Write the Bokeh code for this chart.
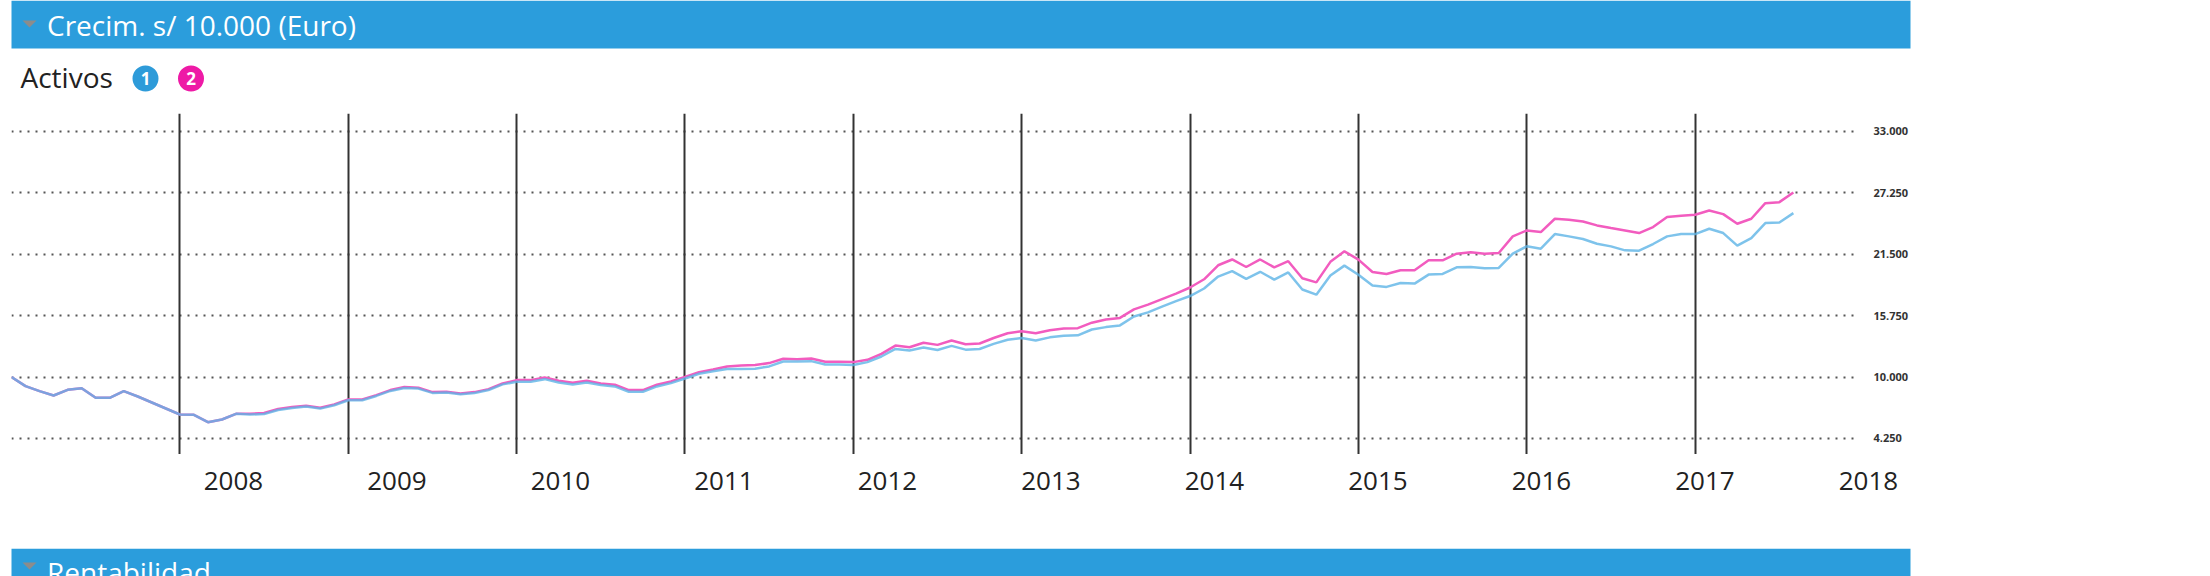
from bokeh.plotting import figure
from bokeh.models import Range1d, FixedTicker, ColumnDataSource, Grid
from bokeh.core.properties import value
from bokeh.embed import file_html
from bokeh.resources import INLINE

# ---------------- data ----------------
months = list(range(128))  # monthly observations, index 0 = first month

serie_1 = [10000, 9143, 8675, 8270, 8800, 8956, 8052, 8052, 8675, 8177,
           7616, 7055, 6494, 6463, 5777, 6026, 6556, 6485, 6547, 6921,
           7108, 7233, 7046, 7358, 7826, 7826, 8230, 8698, 8978, 8916,
           8511, 8542, 8386, 8508, 8786, 9312, 9552, 9552, 9799, 9490,
           9304, 9490, 9243, 9119, 8624, 8624, 9119, 9428, 9861, 10300,
           10540, 10743, 10743, 10774, 10990, 11454, 11454, 11484, 11175, 11175,
           11114, 11392, 11917, 12628, 12474, 12760, 12525, 12908, 12557, 12621,
           13100, 13483, 13643, 13419, 13707, 13867, 13898, 14441, 14665, 14825,
           15655, 16038, 16581, 17092, 17571, 18274, 19392, 19903, 19168, 19839,
           19105, 19775, 18178, 17699, 19488, 20413, 19560, 18548, 18423, 18796,
           18734, 19573, 19635, 20257, 20288, 20164, 20195, 21531, 22215, 21998,
           23365, 23147, 22899, 22464, 22215, 21842, 21811, 22433, 23147, 23365,
           23365, 23862, 23458, 22277, 22992, 24391, 24453, 25323]

serie_2 = [10000, 9143, 8675, 8270, 8800, 8956, 8052, 8052, 8675, 8177,
           7616, 7055, 6494, 6463, 5777, 6026, 6556, 6565, 6627, 7001,
           7188, 7313, 7126, 7438, 7906, 7906, 8310, 8778, 9058, 8996,
           8591, 8622, 8466, 8588, 8866, 9392, 9708, 9708, 9955, 9646,
           9460, 9646, 9399, 9275, 8780, 8780, 9275, 9584, 10017, 10450,
           10700, 10990, 11083, 11114, 11299, 11701, 11670, 11732, 11423, 11423,
           11392, 11608, 12164, 12937, 12783, 13200, 13004, 13419, 13068, 13132,
           13643, 14090, 14282, 14090, 14377, 14537, 14569, 15080, 15368, 15527,
           16326, 16773, 17284, 17795, 18370, 19136, 20446, 20989, 20286, 20989,
           20254, 20829, 19232, 18849, 20765, 21750, 20980, 19822, 19635, 19977,
           19977, 20910, 20910, 21531, 21656, 21531, 21593, 23147, 23707, 23551,
           24795, 24701, 24546, 24173, 23924, 23707, 23458, 24018, 24950, 25074,
           25168, 25572, 25230, 24328, 24795, 26255, 26349, 27250]

year_lines = [12, 24, 36, 48, 60, 72, 84, 96, 108, 120]   # month index of each year separator
year_labels = [2008, 2009, 2010, 2011, 2012, 2013, 2014, 2015, 2016, 2017, 2018]
y_ticks = [4250, 10000, 15750, 21500, 27250, 33000]
y_tick_labels = ["4.250", "10.000", "15.750", "21.500", "27.250", "33.000"]

title_text = "Crecim. s/ 10.000 (Euro)"
legend_title = "Activos"
legend_items = ["1", "2"]
legend_colors = ["#2e9bd9", "#ee1aa6"]
next_section = "Rentabilidad"

W = 2210
BLUE_BAR = "#2b9ddc"
FONT = "Open Sans"


def blank(h, xr, yr):
    f = figure(width=W, height=h, x_range=xr, y_range=yr, title=None,
               x_axis_location=None, y_axis_location=None,
               toolbar_location=None, output_backend="svg",
               min_border_left=0, min_border_right=0,
               min_border_top=0, min_border_bottom=0)
    f.outline_line_color = None
    f.grid.visible = False
    f.background_fill_color = "white"
    f.border_fill_color = "white"
    return f


# ---------------- header (section title + legend) ----------------
head = blank(113, Range1d(0, W), Range1d(113, 0))
head.quad(left=11, right=1910, top=0, bottom=48, fill_color=BLUE_BAR, line_color=None)
head.patch([22, 36, 29], [20, 20, 27], fill_color="#8c8c8c", line_color=None)
head.text(x=[46.5], y=[24.5], text=[title_text], text_color="white",
          text_font=value(FONT), text_font_size=value("28px"), text_baseline="middle")
head.text(x=[20], y=[76], text=[legend_title], text_color="#222222",
          text_font=value(FONT), text_font_size=value("28px"), text_baseline="middle")
head.scatter(x=[145, 190.5], y=[78, 78], size=26, marker="circle",
             fill_color=legend_colors, line_color=None)
head.text(x=[145, 190.5], y=[77.5, 77.5], text=legend_items, text_color="white",
          text_font=value(FONT), text_font_size=value("17px"), text_font_style="bold",
          text_align="center", text_baseline="middle")

# ---------------- main chart ----------------
p = figure(width=W, height=341, title=None,
           x_range=Range1d(0, 131.57), y_range=Range1d(2754, 34637),
           x_axis_location=None, y_axis_location="right",
           toolbar_location=None, output_backend="svg",
           min_border_left=11, min_border_right=W - 1857,
           min_border_top=0, min_border_bottom=0)
p.outline_line_color = None
p.background_fill_color = "white"
p.border_fill_color = "white"
p.grid.visible = False

ax = p.yaxis[0]
ax.ticker = FixedTicker(ticks=y_ticks)
ax.major_label_overrides = {t: s for t, s in zip(y_ticks, y_tick_labels)}
ax.axis_line_color = None
ax.major_tick_line_color = None
ax.minor_tick_line_color = None
ax.major_tick_out = 0
ax.major_tick_in = 0
ax.major_label_standoff = 16
ax.major_label_text_font = FONT
ax.major_label_text_font_size = "11px"
ax.major_label_text_font_style = "bold"
ax.major_label_text_color = "#333333"

p.add_layout(Grid(dimension=1, ticker=FixedTicker(ticks=y_ticks),
                  grid_line_color="#555555", grid_line_width=2, grid_line_dash="2 6"))
p.add_layout(Grid(dimension=0, ticker=FixedTicker(ticks=year_lines),
                  grid_line_color="#333333", grid_line_width=2))

src = ColumnDataSource(dict(m=months, s1=serie_1, s2=serie_2))
p.line("m", "s2", source=src, line_color="#f25cbf", line_width=2.5)
p.line("m", "s1", source=src, line_color="#5eb4e6", line_width=2.5, line_alpha=0.8)

# ---------------- year axis (own scale, as in the original chart) ----------------
fy = figure(width=W, height=94, title=None,
            x_range=Range1d(2006.575, 2020.092), y_range=Range1d(0, 1),
            x_axis_location="below", y_axis_location=None,
            toolbar_location=None, output_backend="svg",
            min_border_left=0, min_border_right=0,
            min_border_top=0, min_border_bottom=93)
fy.outline_line_color = None
fy.grid.visible = False
fy.background_fill_color = "white"
fy.border_fill_color = "white"
xa = fy.xaxis[0]
xa.ticker = FixedTicker(ticks=year_labels)
xa.major_label_overrides = {y: str(y) for y in year_labels}
xa.axis_line_color = None
xa.major_tick_line_color = None
xa.minor_tick_line_color = None
xa.major_tick_out = 0
xa.major_tick_in = 0
xa.major_label_standoff = 16
xa.major_label_text_font = FONT
xa.major_label_text_font_size = "26px"
xa.major_label_text_color = "#222222"

# ---------------- next section header (cut off) ----------------
foot = blank(28, Range1d(0, W), Range1d(28, 0))
foot.quad(left=11, right=1910, top=0, bottom=28, fill_color=BLUE_BAR, line_color=None)
foot.patch([22, 36, 29], [14, 14, 21], fill_color="#8c8c8c", line_color=None)
foot.text(x=[46.5], y=[23], text=[next_section], text_color="white",
          text_font=value(FONT), text_font_size=value("28px"), text_baseline="middle")

# separate roots, stacked vertically (no frame alignment between them)
open("out.html", "w").write(file_html([head, p, fy, foot], INLINE))
